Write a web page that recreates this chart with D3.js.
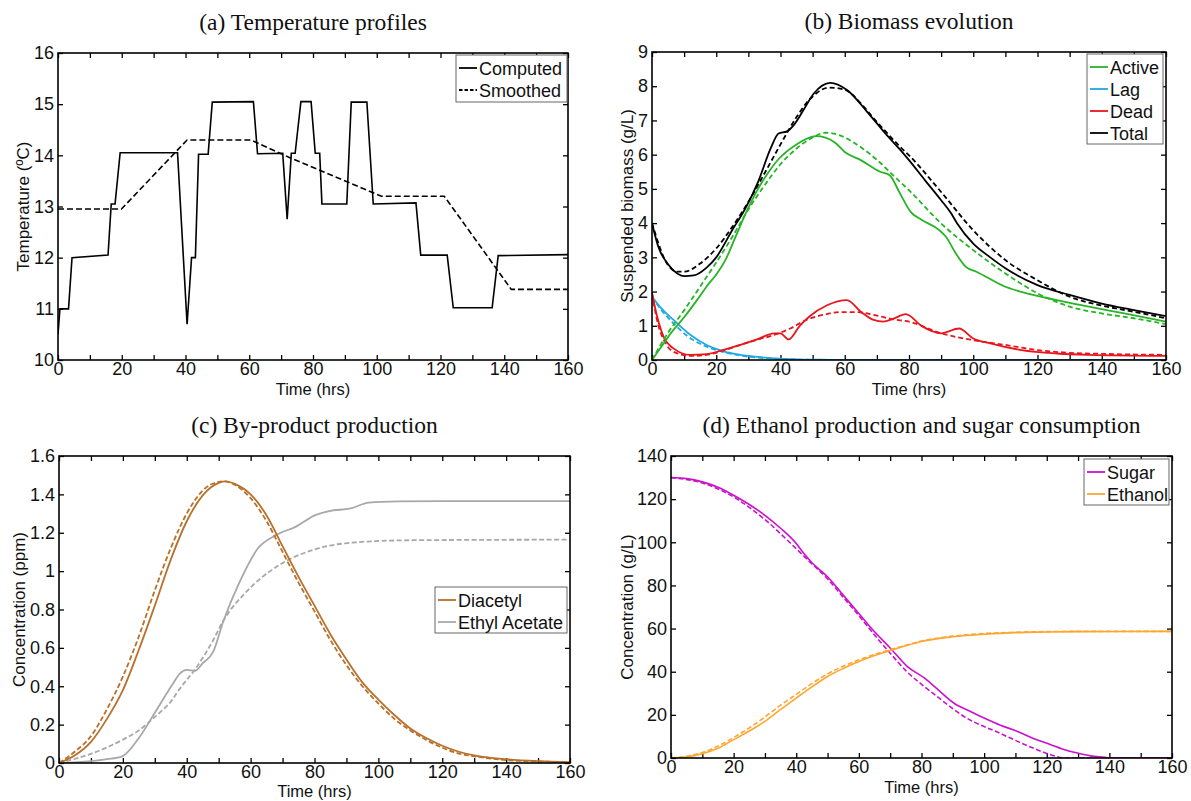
<!DOCTYPE html>
<html>
<head>
<meta charset="utf-8">
<script src="https://d3js.org/d3.v7.min.js"></script>
<style>
  body { margin: 0; padding: 0; background: #fff; }
  svg text { font-family: Arial, "Liberation Sans", sans-serif; fill: #111; }
  .title { font-family: "Liberation Serif", "Times New Roman", serif; font-size: 23.5px; }
  .tick text { font-size: 18px; }
  .axlabel { font-size: 17px; }
  .xlabel { font-size: 16.5px; }
  .leg { font-size: 18px; }
</style>
</head>
<body>
<svg id="chart" width="1191" height="801"></svg>
<script>
// ---- data: [time (hrs), value] ----
var timeTicks = [0, 20, 40, 60, 80, 100, 120, 140, 160];

// (a) temperature
var tempComputed = [[0,10.5],[0.6,11.0],[3.3,11.0],[4.4,12.0],[15.7,12.05],[16.7,13.05],[17.9,13.05],[19.5,14.05],
  [37.5,14.05],[40.5,10.7],[41.9,12.0],[43.1,12.0],[44.1,14.02],[47.1,14.02],[48.4,15.04],[61.3,15.05],[62.6,14.03],
  [70.5,14.04],[71.9,12.75],[73.2,14.04],[74.4,14.04],[76.2,15.05],[79.4,15.05],[80.7,14.04],[82.1,14.04],[82.8,13.05],
  [90.6,13.05],[92.0,15.04],[96.9,15.04],[98.9,13.05],[112.3,13.07],[113.8,12.05],[122.1,12.05],[124.0,11.02],
  [136.2,11.02],[138.1,12.04],[160,12.06]];
var tempSmoothed = [[0,12.95],[19.9,12.95],[40.5,14.3],[60.5,14.3],[72.9,13.95],[101.5,13.2],[121.2,13.2],[142.2,11.38],[160,11.38]];
var tempTicks = [10, 11, 12, 13, 14, 15, 16];

// (b) biomass
var activeSim = [[0,0],[3,0.4],[6,0.8],[10,1.25],[14,1.75],[17,2.15],[20,2.5],[23,2.95],[26,3.6],[30,4.45],[33,5.0],
  [36,5.45],[39.5,5.88],[45,6.3],[51,6.54],[54,6.5],[57,6.35],[60,6.08],[65,5.84],[71,5.5],[74,5.4],[77,4.9],[80.5,4.33],
  [84,4.09],[89.5,3.79],[91.5,3.6],[94.6,3.11],[97.7,2.72],[101,2.58],[110,2.14],[115,1.99],[126,1.75],[136,1.56],[147,1.36],[160,1.12]];
var activeFit = [[0,0],[5,0.8],[10,1.45],[15,2.15],[20,2.85],[25,3.6],[30,4.4],[35,5.1],[40,5.72],[45,6.18],[50,6.5],
  [54,6.64],[58,6.58],[62,6.4],[66,6.15],[70,5.85],[75,5.4],[80,4.96],[90,3.99],[100,3.21],[110,2.53],[120,1.95],
  [130,1.56],[140,1.36],[150,1.22],[160,1.05]];
var lagSim = [[0,1.85],[3,1.5],[6.7,1.17],[12,0.73],[17,0.44],[22,0.26],[27.5,0.15],[33,0.09],[38,0.05],[45,0.02],[55,0.005],[60,0],[160,0]];
var lagFit = [[0,1.85],[3,1.45],[6.7,1.07],[12,0.63],[17,0.39],[22,0.24],[27.5,0.13],[33,0.07],[38,0.04],[45,0.015],[55,0],[160,0]];
var deadSim = [[0,1.95],[1.6,1.27],[3.6,0.68],[6.7,0.34],[11.9,0.15],[17,0.17],[22,0.29],[27.5,0.44],[32.7,0.6],[38,0.78],
  [40,0.78],[42.5,0.6],[46,1.0],[49,1.27],[54.5,1.6],[60.7,1.75],[65,1.41],[69,1.17],[72,1.12],[75,1.2],[79,1.34],
  [84,0.99],[90,0.78],[95.6,0.92],[100,0.63],[105,0.49],[115,0.29],[126,0.19],[136,0.15],[160,0.12]];
var deadFit = [[0,1.95],[2,1.0],[3.6,0.6],[6.7,0.24],[12,0.12],[17,0.15],[22,0.27],[27.5,0.44],[33,0.6],[38,0.73],
  [43,0.92],[48,1.17],[53.4,1.32],[58.6,1.4],[64,1.4],[69,1.32],[75,1.19],[80,1.12],[90,0.78],[100,0.58],[110,0.44],
  [120,0.29],[130,0.21],[140,0.18],[160,0.15]];
var totalSim = [[0,4.0],[2,3.3],[5,2.8],[8,2.52],[10,2.45],[13,2.47],[17,2.7],[20,3.0],[25,3.8],[29,4.42],[33,5.2],
  [37,6.2],[39.4,6.62],[42,6.68],[44,6.85],[47.2,7.31],[50.3,7.78],[55.5,8.1],[60.7,7.89],[66.9,7.26],[73.1,6.57],
  [77.3,6.14],[80,5.84],[85,5.25],[90,4.67],[93,4.3],[95,3.99],[100,3.4],[105,3.02],[110,2.68],[120,2.19],[130,1.9],
  [140,1.65],[150,1.46],[160,1.28]];
var totalFit = [[0,4.0],[5,2.77],[8,2.58],[10,2.58],[15,2.82],[20,3.26],[25,3.89],[30,4.62],[35,5.45],[40,6.3],[45,7.1],
  [48,7.5],[50,7.7],[55,7.96],[60,7.9],[65,7.5],[69,7.06],[73,6.65],[77,6.25],[80,5.98],[90,4.91],[100,3.79],[110,2.92],
  [120,2.33],[130,1.85],[140,1.59],[150,1.41],[160,1.22]];
var biomassTicks = [0, 1, 2, 3, 4, 5, 6, 7, 8, 9];

// (c) by-products
var diacetylSim = [[0,0],[5,0.04],[10,0.11],[15,0.23],[20,0.38],[25,0.59],[30,0.82],[35,1.06],[40,1.26],[45,1.395],
  [50,1.46],[52,1.468],[55,1.455],[60,1.4],[65,1.29],[70,1.13],[75,0.97],[80,0.82],[85,0.67],[90,0.54],[95,0.42],
  [100,0.33],[105,0.25],[110,0.18],[115,0.13],[120,0.09],[125,0.06],[130,0.04],[140,0.02],[150,0.01],[160,0.005]];
var diacetylFit = [[0,0],[5,0.06],[10,0.14],[15,0.28],[20,0.45],[25,0.66],[30,0.9],[35,1.12],[40,1.3],[45,1.42],
  [50,1.465],[52,1.468],[55,1.45],[60,1.38],[65,1.26],[70,1.1],[75,0.94],[80,0.79],[85,0.64],[90,0.51],[95,0.4],
  [100,0.31],[105,0.23],[110,0.17],[115,0.12],[120,0.08],[125,0.05],[130,0.035],[140,0.015],[150,0.008],[160,0.004]];
var ethylSim = [[0,0],[10,0.01],[15,0.02],[19.8,0.035],[25,0.13],[30.2,0.267],[35.4,0.406],[37.9,0.467],[40,0.485],
  [42.5,0.48],[45,0.52],[48.3,0.58],[51.4,0.736],[56.6,0.945],[62.3,1.119],[68,1.188],[74.2,1.232],[80.4,1.293],
  [84.6,1.313],[91.3,1.327],[97,1.357],[106.3,1.363],[120,1.365],[160,1.365]];
var ethylFit = [[0,0],[10,0.048],[19.8,0.12],[25,0.17],[30,0.24],[35,0.32],[37.9,0.389],[42.7,0.49],[48.3,0.641],
  [51.4,0.74],[58.7,0.893],[69,1.032],[79.4,1.11],[89.7,1.145],[106.3,1.16],[120,1.162],[160,1.164]];
var productTicks = [0, 0.2, 0.4, 0.6, 0.8, 1, 1.2, 1.4, 1.6];

// (d) ethanol and sugar
var sugarSim = [[0,130],[5,129.5],[10,128],[15,125.5],[20,121.8],[25,117.5],[30,112.5],[35,106.5],[40,99.4],[42,95.6],
  [45,90.5],[50,84],[55,75.5],[60,67],[65,58.5],[70,51],[75.5,42.4],[81,37],[85,32],[90.4,25.4],[95,22],[100,18.5],
  [105,15.3],[110.7,12.3],[115,9.5],[121.3,6.2],[125,4.2],[129.8,2.3],[134,1.0],[138.4,0.3],[140,0],[160,0]];
var sugarFit = [[0,130],[10,127.5],[20,121],[30,110.5],[40,97],[45,90],[50,83],[55,74.5],[60,66],[65,57],[70,48.6],
  [75,40.5],[81,33],[85,28.5],[90.4,22.4],[95,18],[100,14.6],[105,11.5],[110.7,7.7],[115,5],[121.3,1.5],[125.6,0],[160,0]];
var ethanolSim = [[0,0],[5,0.5],[10,2],[15,4.5],[20,8.5],[25,12.5],[30,17],[35,22.5],[40,27.8],[45,33],[50,37.8],
  [55,41.5],[60,44.7],[65,47.5],[70,49.8],[75,52],[80,54],[90,56.2],[100,57.4],[110,58.1],[120,58.4],[130,58.6],[160,58.7]];
var ethanolFit = [[0,0],[5,0.8],[10,2.5],[15,5.5],[20,9.5],[25,14],[30,19],[35,24.5],[40,29.5],[45,34.5],[50,39],
  [55,42.5],[60,45.5],[65,48],[70,50.2],[75,52.3],[80,54.2],[90,56.5],[100,57.7],[110,58.3],[120,58.6],[130,58.7],[160,58.7]];
var concTicks = [0, 20, 40, 60, 80, 100, 120, 140];

// ---- drawing ----
var svg = d3.select("#chart");

var panels = [
  { title: "(a) Temperature profiles", ylabel: "Temperature (\u00baC)", left: 58, right: 568, top: 53, bottom: 360,
    yTicks: tempTicks, ylabelX: 23, curve: d3.curveLinear, dash: "6,3", width: 1.6,
    series: [
      { data: tempComputed, color: "#000", dashed: false },
      { data: tempSmoothed, color: "#000", dashed: true }
    ],
    legend: { x: 456, y: 55, w: 111, h: 47, items: [["Computed", "#000", false], ["Smoothed", "#000", true]] } },
  { title: "(b) Biomass evolution", ylabel: "Suspended biomass (g/L)", left: 652, right: 1166, top: 52, bottom: 360,
    yTicks: biomassTicks, ylabelX: 627, curve: d3.curveMonotoneX, dash: "5,3", width: 1.8,
    series: [
      { data: lagSim, color: "#1fa8e4", dashed: false }, { data: lagFit, color: "#1fa8e4", dashed: true },
      { data: deadSim, color: "#e8151d", dashed: false }, { data: deadFit, color: "#e8151d", dashed: true },
      { data: activeSim, color: "#27b427", dashed: false }, { data: activeFit, color: "#27b427", dashed: true },
      { data: totalSim, color: "#000", dashed: false }, { data: totalFit, color: "#000", dashed: true }
    ],
    legend: { x: 1087, y: 54, w: 76, h: 90, items: [["Active", "#27b427"], ["Lag", "#1fa8e4"], ["Dead", "#e8151d"], ["Total", "#000"]] } },
  { title: "(c) By-product production", ylabel: "Concentration (ppm)", left: 59, right: 570, top: 456, bottom: 763,
    yTicks: productTicks, ylabelX: 19, curve: d3.curveMonotoneX, dash: "5,2.5", width: 1.8,
    series: [
      { data: ethylSim, color: "#a8a8a8", dashed: false }, { data: ethylFit, color: "#a8a8a8", dashed: true },
      { data: diacetylSim, color: "#b8702b", dashed: false }, { data: diacetylFit, color: "#b8702b", dashed: true }
    ],
    legend: { x: 435, y: 587, w: 132, h: 46, items: [["Diacetyl", "#b8702b"], ["Ethyl Acetate", "#a8a8a8"]] } },
  { title: "(d) Ethanol production and sugar consumption", ylabel: "Concentration (g/L)", left: 671, right: 1172, top: 456, bottom: 758,
    yTicks: concTicks, ylabelX: 627, curve: d3.curveMonotoneX, dash: "5,2.5", width: 1.6,
    series: [
      { data: sugarSim, color: "#cc11cc", dashed: false }, { data: sugarFit, color: "#cc11cc", dashed: true },
      { data: ethanolSim, color: "#ffa630", dashed: false }, { data: ethanolFit, color: "#ffa630", dashed: true }
    ],
    legend: { x: 1084, y: 459, w: 85, h: 46, items: [["Sugar", "#cc11cc"], ["Ethanol", "#ffa630"]] } }
];

panels.forEach(function (p, i) {
  var x = d3.scaleLinear().domain([0, 160]).range([p.left, p.right]);
  var y = d3.scaleLinear().domain([p.yTicks[0], p.yTicks[p.yTicks.length - 1]]).range([p.bottom, p.top]);
  var g = svg.append("g");
  var minor = d3.range(0, 161, 10);

  var fmt = function (d) { return timeTicks.indexOf(d) >= 0 ? d : ""; };
  g.append("g").attr("transform", "translate(0," + p.bottom + ")")
    .call(d3.axisBottom(x).tickValues(minor).tickFormat(fmt).tickSize(-5).tickPadding(2));
  g.append("g").attr("transform", "translate(0," + p.top + ")")
    .call(d3.axisTop(x).tickValues(minor).tickFormat("").tickSize(-5));
  g.append("g").attr("transform", "translate(" + p.left + ",0)")
    .call(d3.axisLeft(y).tickValues(p.yTicks).tickFormat(function (d) { return String(d); }).tickSize(-5).tickPadding(4));
  g.append("g").attr("transform", "translate(" + p.right + ",0)")
    .call(d3.axisRight(y).tickValues(p.yTicks).tickFormat("").tickSize(-5));
  g.selectAll(".domain").remove();
  g.selectAll(".tick line").attr("stroke", "#000").attr("stroke-width", 1.3);
  g.selectAll(".tick text").attr("fill", "#111").style("font-family", "Arial, 'Liberation Sans', sans-serif");

  var clipId = "clip" + i;
  svg.append("clipPath").attr("id", clipId).append("rect")
    .attr("x", p.left).attr("y", p.top - 2).attr("width", p.right - p.left).attr("height", p.bottom - p.top + 2);

  var line = d3.line().x(function (d) { return x(d[0]); }).y(function (d) { return y(d[1]); }).curve(p.curve);
  var lines = g.append("g").attr("clip-path", "url(#" + clipId + ")");
  p.series.forEach(function (s) {
    lines.append("path").attr("d", line(s.data)).attr("fill", "none")
      .attr("stroke", s.color).attr("stroke-width", p.width)
      .attr("stroke-dasharray", s.dashed ? p.dash : null);
  });

  g.append("rect").attr("x", p.left).attr("y", p.top).attr("width", p.right - p.left).attr("height", p.bottom - p.top)
    .attr("fill", "none").attr("stroke", "#000").attr("stroke-width", 1.6);

  // titles and axis labels
  g.append("text").attr("class", "title").attr("x", (p.left + p.right) / 2).attr("y", p.top - 23)
    .attr("text-anchor", "middle").text(p.title);
  g.append("text").attr("class", "xlabel").attr("x", (p.left + p.right) / 2).attr("y", Math.min(p.bottom + 35, 797))
    .attr("text-anchor", "middle").text("Time (hrs)");
  g.append("text").attr("class", "axlabel").attr("text-anchor", "middle")
    .attr("transform", "translate(" + (p.ylabelX + 6) + "," + ((p.top + p.bottom) / 2) + ") rotate(-90)")
    .text(p.ylabel);

  // legend
  var L = p.legend;
  var lg = g.append("g");
  lg.append("rect").attr("x", L.x).attr("y", L.y).attr("width", L.w).attr("height", L.h)
    .attr("fill", "#fff").attr("stroke", "#666").attr("stroke-width", 1);
  L.items.forEach(function (it, k) {
    var cy = L.y + 13 + k * 22;
    lg.append("line").attr("x1", L.x + 3).attr("x2", L.x + 21).attr("y1", cy).attr("y2", cy)
      .attr("stroke", it[1]).attr("stroke-width", 1.8).attr("stroke-dasharray", it[2] ? "3.5,2" : null);
    lg.append("text").attr("class", "leg").attr("x", L.x + 23).attr("y", cy + 6.5).text(it[0]);
  });
});
</script>
</body>
</html>
